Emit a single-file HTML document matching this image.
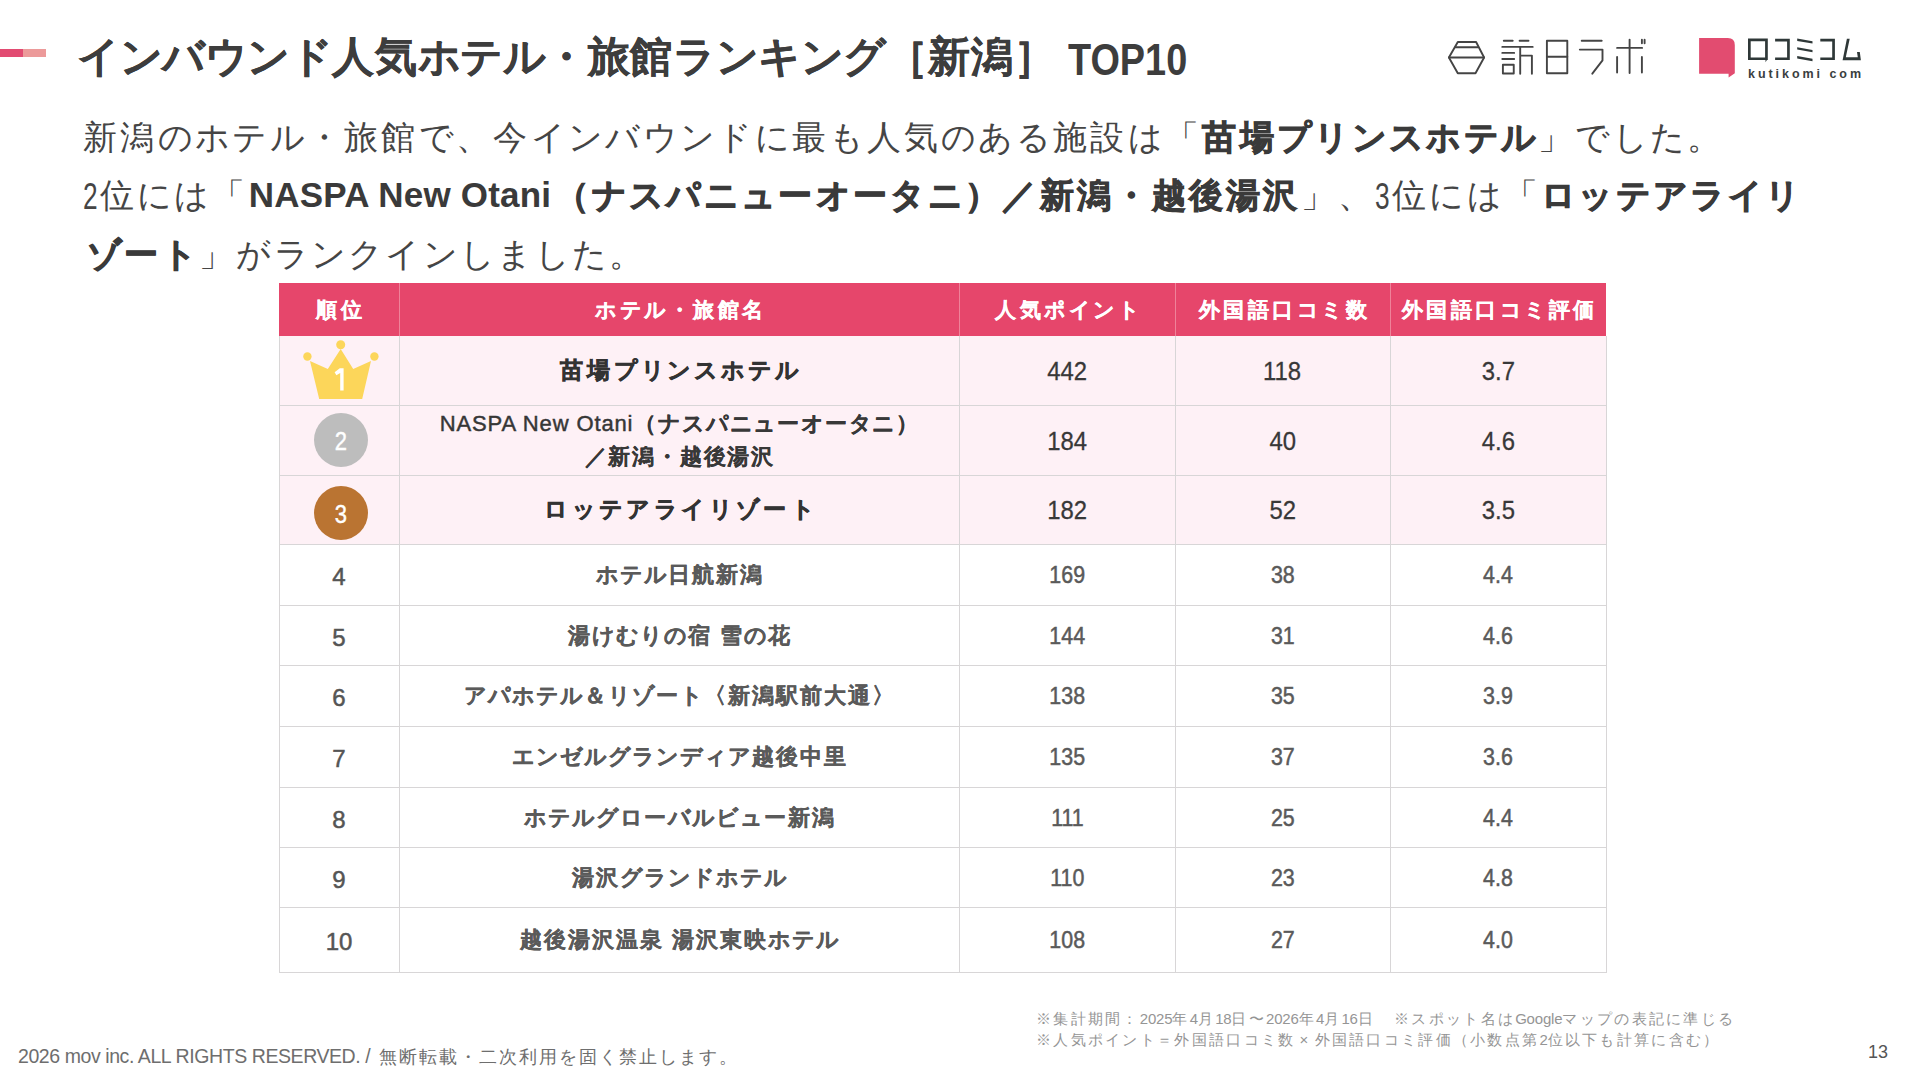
<!DOCTYPE html><html lang="ja"><head><meta charset="utf-8"><title>slide</title><style>
*{margin:0;padding:0;box-sizing:border-box}
html,body{width:1919px;height:1080px;overflow:hidden;background:#fff}
body{position:relative;font-family:"Liberation Sans",sans-serif;color:#3c3c3c}
.a{position:absolute;white-space:nowrap}
.bar1{left:0;top:49px;width:23px;height:7.5px;background:#e24b72}
.bar2{left:23px;top:49px;width:23px;height:7.5px;background:#ec9a9a}
.title{font-weight:bold;color:#3d3d3d;-webkit-text-stroke:0.3px #3d3d3d}
.sub{color:#454545}
.sub b{color:#3a3a3a;-webkit-text-stroke:0.9px #3a3a3a}
.cell{position:absolute;display:flex;align-items:center;justify-content:center;text-align:center}
.hd{background:#e6466b;color:#fff;font-weight:bold;-webkit-text-stroke:0.3px #fff}
.pk{background:#fef1f6}
.n{display:inline-block;transform-origin:50% 50%}
.hl{position:absolute;height:1px;background:#d8d6d7}
.vl{position:absolute;width:1px;background:#d8d6d7}
.dg{display:inline-block;transform-origin:0 0}
</style></head><body>
<div class="a bar1"></div><div class="a bar2"></div>
<div class="a title" style="left:77px;top:31px;font-size:42px;line-height:52px;letter-spacing:0.57px"><span style="letter-spacing:-0.43px">インバウンド</span>人気<span style="letter-spacing:-0.43px">ホテル</span>・旅館<span style="letter-spacing:-0.43px">ランキング</span>［新潟］</div>
<div class="a title" style="-webkit-text-stroke:0;left:1068px;top:33.5px;font-size:44px;line-height:52px;transform:scaleX(0.86);transform-origin:0 0">TOP10</div>
<svg class="a" style="left:1440px;top:30px" width="220" height="55" viewBox="1440 30 220 55" fill="none" stroke="#444" stroke-width="1.9" stroke-linecap="round" stroke-linejoin="round">
<path d="M1457.8 42L1476.1 42L1484.1 57.5L1475.5 73.3L1457.8 73.3L1448.9 57.5Z"/>
<path d="M1455.5 47.2H1477.8M1448.9 57.5H1484.1"/>
<path d="M1503.8 40.8H1512.7M1519.6 40.8H1528.5M1502.3 46.9H1532.7M1502.3 52.9H1514.2M1502.3 59H1514.2"/>
<rect x="1502.9" y="64.8" width="10.85" height="8.7"/>
<path d="M1520.2 46.9V73.7M1520.2 55.6H1531.9V73.7"/>
<rect x="1546.9" y="40.8" width="20.4" height="32.5"/>
<path d="M1546.9 56.7H1567.3"/>
<path d="M1581.7 40.8H1601.7M1579.8 49.6H1602.5V60.4L1592.3 73.7"/>
<path d="M1617.1 47.9H1642.1M1629.6 39.6V73.1M1617.1 56.9V72.5M1641.9 56.9V72.5M1641.9 39.8V43.3M1644.6 39.8V43.3"/>
</svg>
<svg class="a" style="left:1690px;top:30px" width="180" height="55" viewBox="1690 30 180 55">
<path fill="#e24c70" d="M1699.1 38.1H1727.8Q1734.8 38.1 1734.8 45.1V73.3L1728.6 77.4V73.8H1699.1Z"/>
<g fill="#2f3838">
<path d="M1748 38.5H1767.8V60.1H1766.9L1765.5 62.3V60.1H1748ZM1750.7 41.2V57.4H1765.1V41.2Z"/>
<path d="M1775.1 38.8H1789.8V60.1H1775.1V57.4H1787.1V41.5H1775.1Z"/>
<path d="M1797.2 38.5L1812.5 41.2V43.6L1797.2 40.9ZM1797.2 47.3L1812.5 49.9V52.3L1797.2 49.6ZM1797.2 56.1L1812.5 58.7V61.2L1797.2 58.5Z"/>
<path d="M1820.3 38.8H1834.9V60.1H1820.3V57.4H1832.2V41.5H1820.3Z"/>
<path d="M1846.9 38.8H1849.7L1845.8 57.3H1857.8L1857 52H1859.8L1860.9 60.3H1842.6Z"/>
</g>
<text x="1748" y="77.7" font-family="Liberation Sans" font-weight="bold" font-size="12.5" fill="#3a4040" letter-spacing="2.95">kutikomi com</text>
</svg>
<div class="a sub" style="left:83px;top:115px;font-size:34px;line-height:44px;letter-spacing:3.31px">新潟<span style="letter-spacing:2.31px">のホテル</span>・旅館<span style="letter-spacing:2.31px">で</span>、今<span style="letter-spacing:2.31px">インバウンドに</span>最<span style="letter-spacing:2.31px">も</span>人気<span style="letter-spacing:2.31px">のある</span>施設<span style="letter-spacing:2.31px">は</span>「<b>苗場<span style="letter-spacing:2.31px">プリンスホテル</span></b>」<span style="letter-spacing:2.31px">でした</span>。</div>
<div class="a sub" style="left:83px;top:173px;font-size:34px;line-height:44px;letter-spacing:3.31px"><span class="dg" style="width:16.5px;font-size:37px;transform:scaleX(0.71);position:relative;top:1.5px">2</span>位<span style="letter-spacing:2.31px">には</span>「<b><span style="font-size:35px;letter-spacing:0.2px;margin-right:3.3px;-webkit-text-stroke:0">NASPA New Otani</span>（<span style="letter-spacing:2.31px">ナスパニュ</span>ー<span style="letter-spacing:2.31px">オ</span>ー<span style="letter-spacing:2.31px">タニ</span>）／新潟・越後湯沢</b>」、<span class="dg" style="width:16.5px;font-size:37px;transform:scaleX(0.71);position:relative;top:1.5px">3</span>位<span style="letter-spacing:2.31px">には</span>「<b><span style="letter-spacing:2.31px">ロッテアライリ</span></b></div>
<div class="a sub" style="left:87px;top:232px;font-size:34px;line-height:44px;letter-spacing:3.31px"><b><span style="letter-spacing:2.31px">ゾ</span>ー<span style="letter-spacing:2.31px">ト</span></b>」<span style="letter-spacing:2.31px">がランクインしました</span>。</div>
<div class="cell hd" style="left:279px;top:283px;width:120px;height:53px;font-size:21px;letter-spacing:3.5px;padding-left:3.5px">順位</div>
<div class="cell hd" style="left:399px;top:283px;width:560px;height:53px;font-size:21px;letter-spacing:3.5px;padding-left:3.5px"><span style="letter-spacing:2.50px">ホテル</span>・旅館名</div>
<div class="cell hd" style="left:959px;top:283px;width:216px;height:53px;font-size:21px;letter-spacing:3.5px;padding-left:3.5px">人気<span style="letter-spacing:2.50px">ポイント</span></div>
<div class="cell hd" style="left:1175px;top:283px;width:215px;height:53px;font-size:21px;letter-spacing:3.5px;padding-left:3.5px">外国語口<span style="letter-spacing:2.50px">コミ</span>数</div>
<div class="cell hd" style="left:1390px;top:283px;width:216px;height:53px;font-size:21px;letter-spacing:3.5px;padding-left:3.5px">外国語口<span style="letter-spacing:2.50px">コミ</span>評価</div>
<div class="cell pk" style="left:279px;top:336px;width:120px;height:69px;font-size:24px;color:#555"></div>
<div class="cell pk" style="left:399px;top:336px;width:560px;height:69px;font-weight:bold;font-size:23px;letter-spacing:3.8px;padding-left:3.8px;color:#333;line-height:33px;-webkit-text-stroke:0.6px #333"><div>苗場<span style="letter-spacing:2.80px">プリンスホテル</span></div></div>
<div class="cell pk" style="left:959px;top:336px;width:216px;height:69px;font-size:26.5px;color:#383838"><span class="n" style="transform:scaleX(0.9);margin-top:2px;-webkit-text-stroke:0.3px #383838">442</span></div>
<div class="cell pk" style="left:1175px;top:336px;width:215px;height:69px;font-size:26.5px;color:#383838"><span class="n" style="transform:scaleX(0.9);margin-top:2px;-webkit-text-stroke:0.3px #383838">118</span></div>
<div class="cell pk" style="left:1390px;top:336px;width:216px;height:69px;font-size:26.5px;color:#383838"><span class="n" style="transform:scaleX(0.9);margin-top:2px;-webkit-text-stroke:0.3px #383838">3.7</span></div>
<div class="a" style="left:313.7px;top:413.3px;width:54px;height:54px;border-radius:50%;background:#bdbdbd;color:#fff;font-size:25px;line-height:54px;text-align:center;z-index:2"><span class="n" style="transform:scaleX(0.88);-webkit-text-stroke:0.4px #fff;position:relative;top:1px;left:0.5px">2</span></div>
<div class="cell pk" style="left:279px;top:405px;width:120px;height:70px;font-size:24px;color:#555"></div>
<div class="cell pk" style="left:399px;top:405px;width:560px;height:70px;font-weight:bold;font-size:22px;letter-spacing:1.8px;padding-left:1.8px;color:#383838;line-height:33px;-webkit-text-stroke:0.15px #383838"><div><span style="font-weight:normal;letter-spacing:0.87px;font-size:22px;margin-right:1px;-webkit-text-stroke:0.45px #333">NASPA New Otani</span>（<span style="letter-spacing:0.80px">ナスパニュ</span>ー<span style="letter-spacing:0.80px">オ</span>ー<span style="letter-spacing:0.80px">タニ</span>）<br>／新潟・越後湯沢</div></div>
<div class="cell pk" style="left:959px;top:405px;width:216px;height:70px;font-size:26.5px;color:#383838"><span class="n" style="transform:scaleX(0.9);margin-top:2px;-webkit-text-stroke:0.3px #383838">184</span></div>
<div class="cell pk" style="left:1175px;top:405px;width:215px;height:70px;font-size:26.5px;color:#383838"><span class="n" style="transform:scaleX(0.9);margin-top:2px;-webkit-text-stroke:0.3px #383838">40</span></div>
<div class="cell pk" style="left:1390px;top:405px;width:216px;height:70px;font-size:26.5px;color:#383838"><span class="n" style="transform:scaleX(0.9);margin-top:2px;-webkit-text-stroke:0.3px #383838">4.6</span></div>
<div class="a" style="left:313.7px;top:485.6px;width:54px;height:54px;border-radius:50%;background:#ba7432;color:#fff;font-size:25px;line-height:54px;text-align:center;z-index:2"><span class="n" style="transform:scaleX(0.88);-webkit-text-stroke:0.4px #fff;position:relative;top:1px;left:0.5px">3</span></div>
<div class="cell pk" style="left:279px;top:475px;width:120px;height:69px;font-size:24px;color:#555"></div>
<div class="cell pk" style="left:399px;top:475px;width:560px;height:69px;font-weight:bold;font-size:23px;letter-spacing:4.4px;padding-left:4.4px;color:#333;line-height:33px;-webkit-text-stroke:0.6px #333"><div><span style="letter-spacing:3.40px">ロッテアライリゾ</span>ー<span style="letter-spacing:3.40px">ト</span></div></div>
<div class="cell pk" style="left:959px;top:475px;width:216px;height:69px;font-size:26.5px;color:#383838"><span class="n" style="transform:scaleX(0.9);margin-top:2px;-webkit-text-stroke:0.3px #383838">182</span></div>
<div class="cell pk" style="left:1175px;top:475px;width:215px;height:69px;font-size:26.5px;color:#383838"><span class="n" style="transform:scaleX(0.9);margin-top:2px;-webkit-text-stroke:0.3px #383838">52</span></div>
<div class="cell pk" style="left:1390px;top:475px;width:216px;height:69px;font-size:26.5px;color:#383838"><span class="n" style="transform:scaleX(0.9);margin-top:2px;-webkit-text-stroke:0.3px #383838">3.5</span></div>
<div class="cell" style="left:279px;top:544px;width:120px;height:61px;font-size:24px;color:#555"><span class="n" style="margin-top:5px;-webkit-text-stroke:0.5px #555">4</span></div>
<div class="cell" style="left:399px;top:544px;width:560px;height:61px;font-weight:bold;font-size:22px;letter-spacing:2.0px;padding-left:2.0px;color:#5a5a5a;line-height:33px;-webkit-text-stroke:0.3px #5a5a5a"><div><span style="letter-spacing:1.00px">ホテル</span>日航新潟</div></div>
<div class="cell" style="left:959px;top:544px;width:216px;height:61px;font-size:23px;color:#5a5a5a"><span class="n" style="transform:scaleX(0.93);margin-top:2px;-webkit-text-stroke:0.5px #5a5a5a">169</span></div>
<div class="cell" style="left:1175px;top:544px;width:215px;height:61px;font-size:23px;color:#5a5a5a"><span class="n" style="transform:scaleX(0.93);margin-top:2px;-webkit-text-stroke:0.5px #5a5a5a">38</span></div>
<div class="cell" style="left:1390px;top:544px;width:216px;height:61px;font-size:23px;color:#5a5a5a"><span class="n" style="transform:scaleX(0.93);margin-top:2px;-webkit-text-stroke:0.5px #5a5a5a">4.4</span></div>
<div class="cell" style="left:279px;top:605px;width:120px;height:60px;font-size:24px;color:#555"><span class="n" style="margin-top:5px;-webkit-text-stroke:0.5px #555">5</span></div>
<div class="cell" style="left:399px;top:605px;width:560px;height:60px;font-weight:bold;font-size:22px;letter-spacing:2.0px;padding-left:2.0px;color:#5a5a5a;line-height:33px;-webkit-text-stroke:0.3px #5a5a5a"><div>湯<span style="letter-spacing:1.00px">けむりの</span>宿 雪<span style="letter-spacing:1.00px">の</span>花</div></div>
<div class="cell" style="left:959px;top:605px;width:216px;height:60px;font-size:23px;color:#5a5a5a"><span class="n" style="transform:scaleX(0.93);margin-top:2px;-webkit-text-stroke:0.5px #5a5a5a">144</span></div>
<div class="cell" style="left:1175px;top:605px;width:215px;height:60px;font-size:23px;color:#5a5a5a"><span class="n" style="transform:scaleX(0.93);margin-top:2px;-webkit-text-stroke:0.5px #5a5a5a">31</span></div>
<div class="cell" style="left:1390px;top:605px;width:216px;height:60px;font-size:23px;color:#5a5a5a"><span class="n" style="transform:scaleX(0.93);margin-top:2px;-webkit-text-stroke:0.5px #5a5a5a">4.6</span></div>
<div class="cell" style="left:279px;top:665px;width:120px;height:61px;font-size:24px;color:#555"><span class="n" style="margin-top:5px;-webkit-text-stroke:0.5px #555">6</span></div>
<div class="cell" style="left:399px;top:665px;width:560px;height:61px;font-weight:bold;font-size:22px;letter-spacing:2.0px;padding-left:2.0px;color:#5a5a5a;line-height:33px;-webkit-text-stroke:0.3px #5a5a5a"><div><span style="letter-spacing:1.00px">アパホテル</span>＆<span style="letter-spacing:1.00px">リゾ</span>ー<span style="letter-spacing:1.00px">ト</span>〈新潟駅前大通〉</div></div>
<div class="cell" style="left:959px;top:665px;width:216px;height:61px;font-size:23px;color:#5a5a5a"><span class="n" style="transform:scaleX(0.93);margin-top:2px;-webkit-text-stroke:0.5px #5a5a5a">138</span></div>
<div class="cell" style="left:1175px;top:665px;width:215px;height:61px;font-size:23px;color:#5a5a5a"><span class="n" style="transform:scaleX(0.93);margin-top:2px;-webkit-text-stroke:0.5px #5a5a5a">35</span></div>
<div class="cell" style="left:1390px;top:665px;width:216px;height:61px;font-size:23px;color:#5a5a5a"><span class="n" style="transform:scaleX(0.93);margin-top:2px;-webkit-text-stroke:0.5px #5a5a5a">3.9</span></div>
<div class="cell" style="left:279px;top:726px;width:120px;height:61px;font-size:24px;color:#555"><span class="n" style="margin-top:5px;-webkit-text-stroke:0.5px #555">7</span></div>
<div class="cell" style="left:399px;top:726px;width:560px;height:61px;font-weight:bold;font-size:22px;letter-spacing:2.0px;padding-left:2.0px;color:#5a5a5a;line-height:33px;-webkit-text-stroke:0.3px #5a5a5a"><div><span style="letter-spacing:1.00px">エンゼルグランディア</span>越後中里</div></div>
<div class="cell" style="left:959px;top:726px;width:216px;height:61px;font-size:23px;color:#5a5a5a"><span class="n" style="transform:scaleX(0.93);margin-top:2px;-webkit-text-stroke:0.5px #5a5a5a">135</span></div>
<div class="cell" style="left:1175px;top:726px;width:215px;height:61px;font-size:23px;color:#5a5a5a"><span class="n" style="transform:scaleX(0.93);margin-top:2px;-webkit-text-stroke:0.5px #5a5a5a">37</span></div>
<div class="cell" style="left:1390px;top:726px;width:216px;height:61px;font-size:23px;color:#5a5a5a"><span class="n" style="transform:scaleX(0.93);margin-top:2px;-webkit-text-stroke:0.5px #5a5a5a">3.6</span></div>
<div class="cell" style="left:279px;top:787px;width:120px;height:60px;font-size:24px;color:#555"><span class="n" style="margin-top:5px;-webkit-text-stroke:0.5px #555">8</span></div>
<div class="cell" style="left:399px;top:787px;width:560px;height:60px;font-weight:bold;font-size:22px;letter-spacing:2.0px;padding-left:2.0px;color:#5a5a5a;line-height:33px;-webkit-text-stroke:0.3px #5a5a5a"><div><span style="letter-spacing:1.00px">ホテルグロ</span>ー<span style="letter-spacing:1.00px">バルビュ</span>ー新潟</div></div>
<div class="cell" style="left:959px;top:787px;width:216px;height:60px;font-size:23px;color:#5a5a5a"><span class="n" style="transform:scaleX(0.93);margin-top:2px;-webkit-text-stroke:0.5px #5a5a5a">111</span></div>
<div class="cell" style="left:1175px;top:787px;width:215px;height:60px;font-size:23px;color:#5a5a5a"><span class="n" style="transform:scaleX(0.93);margin-top:2px;-webkit-text-stroke:0.5px #5a5a5a">25</span></div>
<div class="cell" style="left:1390px;top:787px;width:216px;height:60px;font-size:23px;color:#5a5a5a"><span class="n" style="transform:scaleX(0.93);margin-top:2px;-webkit-text-stroke:0.5px #5a5a5a">4.4</span></div>
<div class="cell" style="left:279px;top:847px;width:120px;height:60px;font-size:24px;color:#555"><span class="n" style="margin-top:5px;-webkit-text-stroke:0.5px #555">9</span></div>
<div class="cell" style="left:399px;top:847px;width:560px;height:60px;font-weight:bold;font-size:22px;letter-spacing:2.0px;padding-left:2.0px;color:#5a5a5a;line-height:33px;-webkit-text-stroke:0.3px #5a5a5a"><div>湯沢<span style="letter-spacing:1.00px">グランドホテル</span></div></div>
<div class="cell" style="left:959px;top:847px;width:216px;height:60px;font-size:23px;color:#5a5a5a"><span class="n" style="transform:scaleX(0.93);margin-top:2px;-webkit-text-stroke:0.5px #5a5a5a">110</span></div>
<div class="cell" style="left:1175px;top:847px;width:215px;height:60px;font-size:23px;color:#5a5a5a"><span class="n" style="transform:scaleX(0.93);margin-top:2px;-webkit-text-stroke:0.5px #5a5a5a">23</span></div>
<div class="cell" style="left:1390px;top:847px;width:216px;height:60px;font-size:23px;color:#5a5a5a"><span class="n" style="transform:scaleX(0.93);margin-top:2px;-webkit-text-stroke:0.5px #5a5a5a">4.8</span></div>
<div class="cell" style="left:279px;top:907px;width:120px;height:65px;font-size:24px;color:#555"><span class="n" style="margin-top:5px;-webkit-text-stroke:0.5px #555">10</span></div>
<div class="cell" style="left:399px;top:907px;width:560px;height:65px;font-weight:bold;font-size:22px;letter-spacing:2.0px;padding-left:2.0px;color:#5a5a5a;line-height:33px;-webkit-text-stroke:0.3px #5a5a5a"><div>越後湯沢温泉 湯沢東映<span style="letter-spacing:1.00px">ホテル</span></div></div>
<div class="cell" style="left:959px;top:907px;width:216px;height:65px;font-size:23px;color:#5a5a5a"><span class="n" style="transform:scaleX(0.93);margin-top:2px;-webkit-text-stroke:0.5px #5a5a5a">108</span></div>
<div class="cell" style="left:1175px;top:907px;width:215px;height:65px;font-size:23px;color:#5a5a5a"><span class="n" style="transform:scaleX(0.93);margin-top:2px;-webkit-text-stroke:0.5px #5a5a5a">27</span></div>
<div class="cell" style="left:1390px;top:907px;width:216px;height:65px;font-size:23px;color:#5a5a5a"><span class="n" style="transform:scaleX(0.93);margin-top:2px;-webkit-text-stroke:0.5px #5a5a5a">4.0</span></div>
<svg class="a" style="left:290px;top:336px" width="90" height="70" viewBox="290 336 90 70"><g fill="#fcd65a"><circle cx="340.7" cy="344.7" r="4.5"/><circle cx="307.4" cy="356.5" r="4.2"/><circle cx="374.4" cy="356.5" r="4.2"/><path d="M310 361L327.8 369L340.7 349L353.2 369L371 361L362.2 399H319.2Z"/></g>
<path fill="#fff" d="M334.6 372.2L339.8 368.3H343.6V390.6H340.2V372.9L336.4 375.2Z"/></svg>
<div class="hl" style="left:279px;top:405px;width:1328px"></div>
<div class="hl" style="left:279px;top:475px;width:1328px"></div>
<div class="hl" style="left:279px;top:544px;width:1328px"></div>
<div class="hl" style="left:279px;top:605px;width:1328px"></div>
<div class="hl" style="left:279px;top:665px;width:1328px"></div>
<div class="hl" style="left:279px;top:726px;width:1328px"></div>
<div class="hl" style="left:279px;top:787px;width:1328px"></div>
<div class="hl" style="left:279px;top:847px;width:1328px"></div>
<div class="hl" style="left:279px;top:907px;width:1328px"></div>
<div class="hl" style="left:279px;top:972px;width:1328px"></div>
<div class="vl" style="left:279px;top:336px;height:637px"></div>
<div class="vl" style="left:399px;top:336px;height:637px"></div>
<div class="vl" style="left:959px;top:336px;height:637px"></div>
<div class="vl" style="left:1175px;top:336px;height:637px"></div>
<div class="vl" style="left:1390px;top:336px;height:637px"></div>
<div class="vl" style="left:1606px;top:336px;height:637px"></div>
<div class="vl" style="left:399px;top:283px;height:53px;background:#ef8299"></div>
<div class="vl" style="left:959px;top:283px;height:53px;background:#ef8299"></div>
<div class="vl" style="left:1175px;top:283px;height:53px;background:#ef8299"></div>
<div class="vl" style="left:1390px;top:283px;height:53px;background:#ef8299"></div>
<div class="a" style="left:18px;top:1043px;color:#6e6e6e;line-height:26px"><span style="font-size:19.5px;letter-spacing:-0.42px">2026 mov inc. ALL RIGHTS RESERVED. / </span><span style="font-size:18px;letter-spacing:2.0px;margin-left:4px">無断転載・二次利用を固く禁止します。</span></div>
<div class="a" style="left:1036px;top:1009px;font-size:15px;color:#959595;line-height:20px;letter-spacing:2.3px">※集計期間：<span style="letter-spacing:-0.2px;">2025</span>年<span style="letter-spacing:-0.2px;">4</span>月<span style="letter-spacing:-0.2px;">18</span>日〜<span style="letter-spacing:-0.2px;">2026</span>年<span style="letter-spacing:-0.2px;">4</span>月<span style="letter-spacing:-0.2px;">16</span>日<span style="display:inline-block;width:19px"></span>※スポット名は<span style="letter-spacing:-0.2px;">Google</span>マップの表記に準じる</div>
<div class="a" style="left:1036px;top:1030px;font-size:15px;color:#959595;line-height:20px;letter-spacing:2.3px">※人気ポイント＝外国語口コミ数<span style="letter-spacing:-0.2px;"> </span>×<span style="letter-spacing:-0.2px;"> </span>外国語口コミ評価（小数点第<span style="letter-spacing:-0.2px;">2</span>位以下も計算に含む）</div>
<div class="a" style="left:1868px;top:1042px;font-size:18px;color:#555">13</div>
</body></html>
